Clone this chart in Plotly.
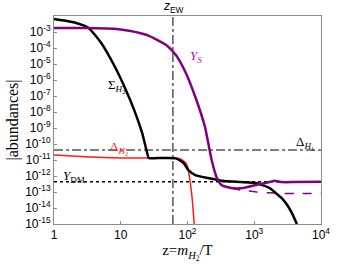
import plotly.graph_objects as go

# ---- data (z = m_H2/T, abundances as log10 exponents) ----
sigma_z = [1, 1.5, 2.15, 3.3, 5.1, 8.2, 11.4, 15.9, 20.9, 24, 26.3, 35, 50, 67, 87.5, 103, 131, 201, 355, 627, 1070, 1700, 2090, 2600, 3100, 3700, 4350]
sigma_log = [-2.19, -2.3, -2.44, -2.75, -3.69, -5.19, -6.44, -7.88, -9.31, -10.3, -10.87, -10.88, -10.88, -10.9, -11.19, -11.63, -11.94, -12.12, -12.31, -12.375, -12.44, -12.75, -13.06, -13.4, -13.8, -14.35, -15.0]

ys_z = [1, 3, 8, 14, 25, 48, 67, 93, 131, 183, 195, 230, 272, 323, 450, 690, 1070, 1700, 2000, 2600, 4000, 10000]
ys_log = [-2.75, -2.75, -2.8, -2.94, -3.2, -3.81, -4.44, -5.5, -7.06, -8.94, -9.5, -11.0, -12.06, -12.56, -12.75, -12.75, -12.56, -12.375, -12.3, -12.38, -12.38, -12.36]

ys_dash_z = [450, 627, 1070, 1700, 2500, 4000, 10000]
ys_dash_log = [-12.75, -12.875, -13.0, -13.05, -13.08, -13.1, -13.1]

dh2_z = [1, 3, 10, 30, 67, 80, 94, 100, 110, 118, 126]
dh2_log = [-10.69, -10.8, -10.88, -10.88, -10.88, -10.95, -11.19, -11.4, -12.4, -13.5, -15.0]

delta_h1 = 10 ** -10.375
y_dm = 10 ** -12.36
z_ew = 60.5

x_tickvals = [1, 10, 100, 1000, 10000]
x_ticktext = ["1", "10", "10<sup>2</sup>", "10<sup>3</sup>", "10<sup>4</sup>"]
y_exps = list(range(-15, -2))
y_tickvals = [10 ** e for e in y_exps]
y_ticktext = ["10<sup>%d</sup>" % e for e in y_exps]

def pw(a):
    return [10 ** v for v in a]

fig = go.Figure()
# reference lines
fig.add_trace(go.Scatter(x=[1, 1e4], y=[delta_h1, delta_h1], mode="lines",
                         line=dict(color="black", width=1, dash="dashdot"), showlegend=False))
fig.add_trace(go.Scatter(x=[1, 1e4], y=[y_dm, y_dm], mode="lines",
                         line=dict(color="black", width=1.5, dash="dot"), showlegend=False))
fig.add_trace(go.Scatter(x=[z_ew, z_ew], y=[1e-15, 1e-2], mode="lines",
                         line=dict(color="black", width=1, dash="dashdot"), showlegend=False))
# curves
fig.add_trace(go.Scatter(x=dh2_z, y=pw(dh2_log), mode="lines",
                         line=dict(color="#ff1a1a", width=1.5, shape="spline", smoothing=0.5), showlegend=False))
fig.add_trace(go.Scatter(x=ys_dash_z, y=pw(ys_dash_log), mode="lines",
                         line=dict(color="#800080", width=1.5, dash="dash", shape="spline", smoothing=0.5), showlegend=False))
fig.add_trace(go.Scatter(x=sigma_z, y=pw(sigma_log), mode="lines",
                         line=dict(color="black", width=2.5, shape="spline", smoothing=0.5), showlegend=False))
fig.add_trace(go.Scatter(x=ys_z, y=pw(ys_log), mode="lines",
                         line=dict(color="#800080", width=2.5, shape="spline", smoothing=0.5), showlegend=False))

serif = "Liberation Serif"
ann = [
    dict(x=0.93, y=-6.35, text="Σ<sub><i>H</i><sub>2</sub></sub>", color="black"),
    dict(x=2.13, y=-4.55, text="<i>Y<sub>S</sub></i>", color="#a020a0"),
    dict(x=0.98, y=-10.25, text="Δ<sub><i>H</i><sub>2</sub></sub>", color="#ff1a1a"),
    dict(x=0.3, y=-12.0, text="<i>Y</i><sub>DM</sub>", color="black"),
    dict(x=3.76, y=-9.95, text="Δ<sub><i>H</i><sub>1</sub></sub>", color="black"),
]
for a in ann:
    fig.add_annotation(x=a["x"], y=a["y"], xref="x", yref="y", text=a["text"], showarrow=False,
                       font=dict(family=serif, size=13, color=a["color"]))
fig.add_annotation(x=1.785, y=1.0, xref="x", yref="paper", yanchor="bottom", yshift=-1,
                   text="<i>z</i><sub>EW</sub>", showarrow=False,
                   font=dict(family="Liberation Sans", size=12, color="black"))

axis_common = dict(showgrid=False, zeroline=False, showline=True, linecolor="#8c8c8c", linewidth=1,
                   mirror=True, ticks="inside", ticklen=3, tickcolor="#8c8c8c",
                   tickfont=dict(family="Liberation Sans", size=12, color="black"))
fig.update_xaxes(type="log", range=[0, 4], tickvals=x_tickvals, ticktext=x_ticktext,
                 title=dict(text="z=<i>m</i><sub><i>H</i><sub>2</sub></sub>/T",
                            font=dict(family=serif, size=15, color="black"), standoff=3), **axis_common)
fig.update_yaxes(type="log", range=[-15, -2], tickvals=y_tickvals, ticktext=y_ticktext,
                 title=dict(text="|abundances|", font=dict(family=serif, size=16, color="black"), standoff=2),
                 **axis_common)
fig.update_layout(width=340, height=267, margin=dict(l=54, r=10, t=16, b=43),
                  plot_bgcolor="white", paper_bgcolor="white")
# remove the default 8px page margin so the figure fills the window exactly
fig.write_html("out.html", config={"displayModeBar": False},
               post_script="document.body.style.margin='0';")
